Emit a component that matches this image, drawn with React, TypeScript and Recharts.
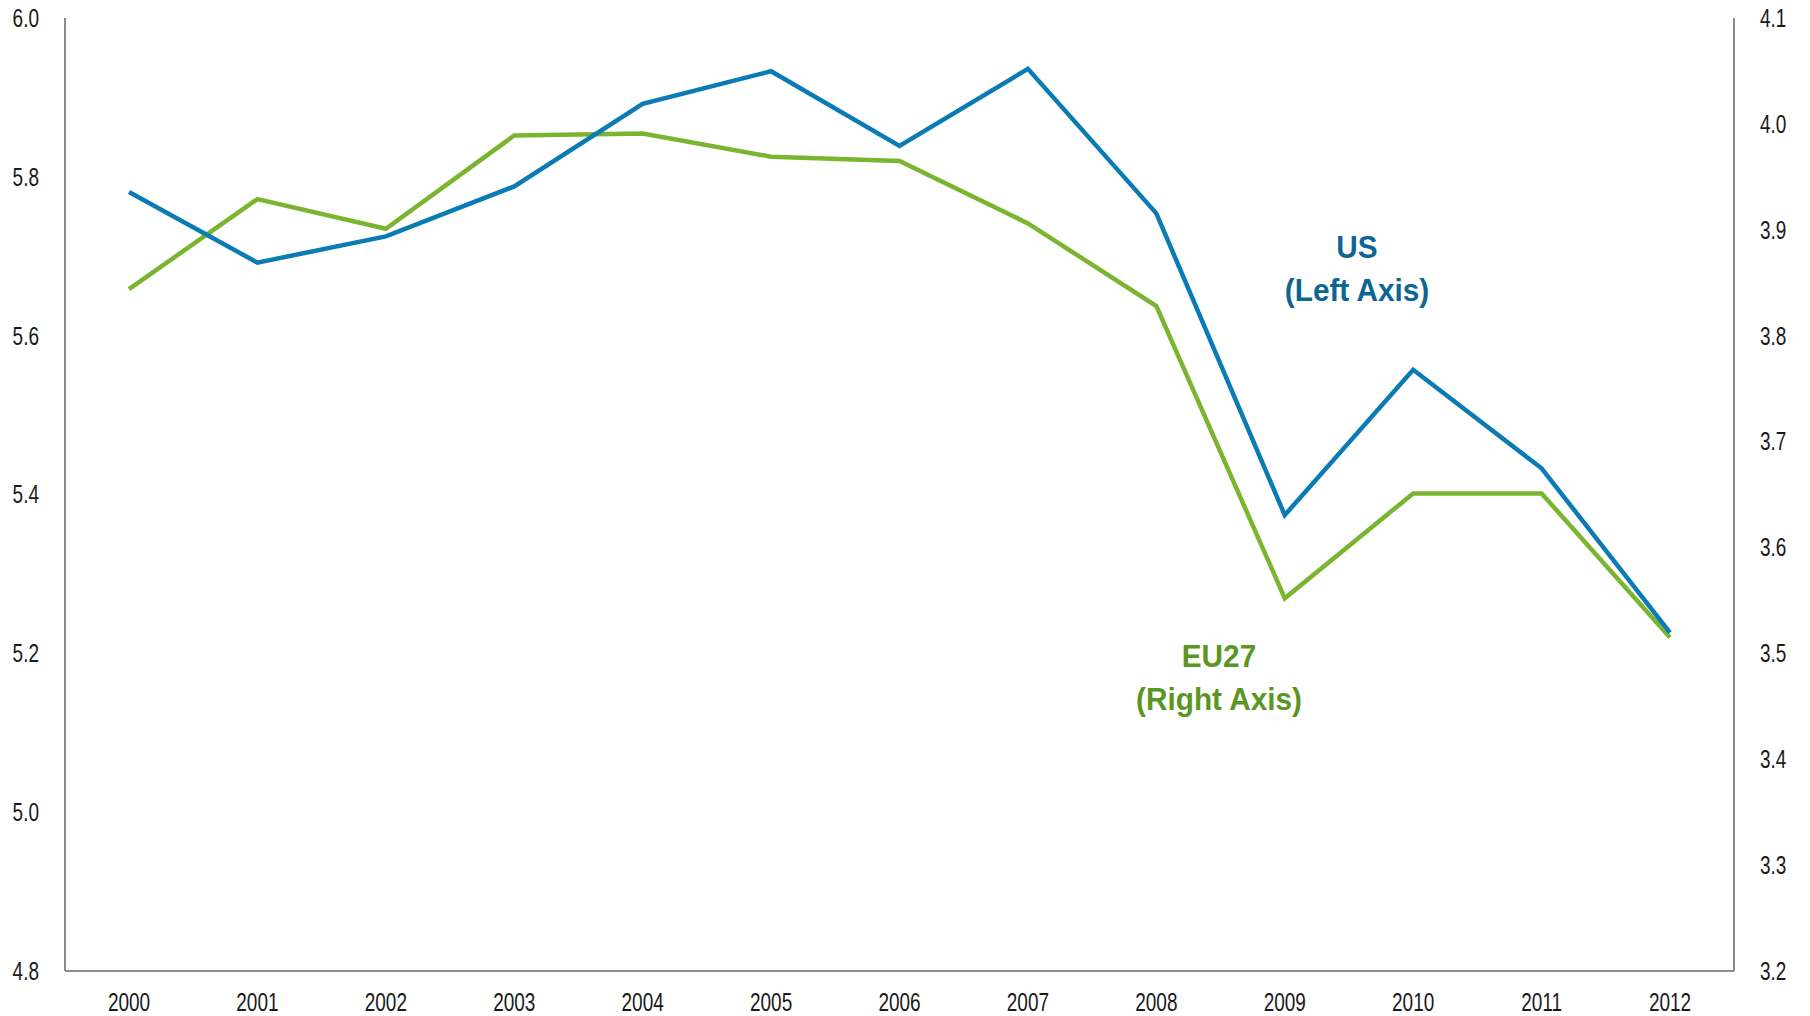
import { LineChart, Line, XAxis, YAxis } from "recharts"

const years = ["2000", "2001", "2002", "2003", "2004", "2005", "2006", "2007", "2008", "2009", "2010", "2011", "2012"]
const usValues = [5.781, 5.692, 5.725, 5.788, 5.892, 5.933, 5.839, 5.936, 5.754, 5.374, 5.557, 5.433, 5.226]
const eu27Values = [3.844, 3.929, 3.901, 3.989, 3.991, 3.969, 3.965, 3.906, 3.828, 3.552, 3.651, 3.651, 3.515]
const leftTicks = [4.8, 5.0, 5.2, 5.4, 5.6, 5.8, 6.0]
const rightTicks = [3.2, 3.3, 3.4, 3.5, 3.6, 3.7, 3.8, 3.9, 4.0, 4.1]

const data = years.map((year, i) => ({ year, us: usValues[i], eu27: eu27Values[i] }))

const FONT = "'Liberation Sans', Arial, sans-serif"
const AXIS = "#8c8c8c"
const BLUE = "#0a7bb4"
const GREEN = "#7ab530"

// narrow look: squeeze Liberation Sans horizontally
const NarrowTick = (props: any) => {
  const { x, y, payload, textAnchor, kind } = props
  const label = kind === "x" ? String(payload.value) : Number(payload.value).toFixed(1)
  return (
    <text
      transform={`translate(${x},${y}) scale(0.76,1)`}
      textAnchor={textAnchor}
      dy={kind === "x" ? "0.71em" : "0.355em"}
      fontSize={25}
      fontFamily={FONT}
      fill="#1a1a1a"
    >
      {label}
    </text>
  )
}

const labelStyle = (color: string, left: number, top: number) => ({
  position: "absolute" as const,
  left,
  top,
  width: 300,
  textAlign: "center" as const,
  color,
  fontFamily: FONT,
  fontWeight: 700,
  fontSize: 32,
  lineHeight: "43px",
  transform: "scaleX(0.93)",
})

export default function App() {
  return (
    <div style={{ position: "absolute", left: 0, top: 0, width: 1810, height: 1016, background: "#fff" }}>
      <LineChart width={1810} height={1016} data={data} margin={{ top: 18, right: 0, bottom: 0, left: 0 }}>
        <XAxis
          dataKey="year"
          height={45}
          padding={{ left: 64, right: 64 }}
          tick={<NarrowTick kind="x" />}
          tickLine={false}
          tickSize={0}
          tickMargin={22}
          axisLine={{ stroke: AXIS, strokeWidth: 2 }}
        />
        <YAxis
          yAxisId="left"
          orientation="left"
          width={65}
          domain={[4.8, 6.0]}
          ticks={leftTicks}
          tick={<NarrowTick kind="y" />}
          tickLine={false}
          tickSize={0}
          tickMargin={26}
          axisLine={{ stroke: AXIS, strokeWidth: 2 }}
        />
        <YAxis
          yAxisId="right"
          orientation="right"
          width={76}
          domain={[3.2, 4.1]}
          ticks={rightTicks}
          tick={<NarrowTick kind="y" />}
          tickLine={false}
          tickSize={0}
          tickMargin={26}
          axisLine={{ stroke: AXIS, strokeWidth: 2 }}
        />
        <Line yAxisId="right" type="linear" dataKey="eu27" stroke={GREEN} strokeWidth={4.5} dot={false} isAnimationActive={false} />
        <Line yAxisId="left" type="linear" dataKey="us" stroke={BLUE} strokeWidth={4.5} dot={false} isAnimationActive={false} />
      </LineChart>
      <div style={labelStyle("#0d6592", 1207, 226)}>
        US
        <br />
        (Left Axis)
      </div>
      <div style={labelStyle("#5a9622", 1069, 635)}>
        EU27
        <br />
        (Right Axis)
      </div>
    </div>
  )
}
